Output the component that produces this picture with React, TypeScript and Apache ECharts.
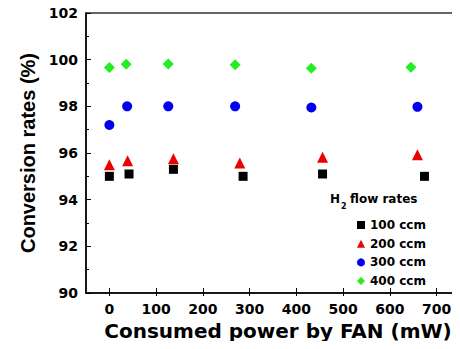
import React, { useEffect, useRef } from "react";
import * as echarts from "echarts";

const seriesNames = ["100 ccm", "200 ccm", "300 ccm", "400 ccm"];
const symbols = ["rect", "triangle", "circle", "diamond"];
const colors = ["#000000", "#ee0000", "#0000ee", "#22ee22"];
const symbolSizes = [9, 11, 10, 11];

const power100 = [0, 42, 137, 286, 456, 674];
const conv100 = [95.0, 95.1, 95.3, 95.0, 95.1, 95.0];
const power200 = [0, 39, 137, 279, 456, 659];
const conv200 = [95.5, 95.67, 95.75, 95.57, 95.82, 95.92];
const power300 = [0, 38, 126, 269, 432, 659];
const conv300 = [97.2, 98.0, 98.0, 98.0, 97.95, 97.98];
const power400 = [0, 36, 126, 269, 432, 645];
const conv400 = [99.66, 99.8, 99.81, 99.78, 99.63, 99.67];

const xMajorTicks = [0, 100, 200, 300, 400, 500, 600, 700];

const wide = "DejaVu Sans, sans-serif";
const narrow = "Liberation Sans, Arial, sans-serif";

export default function App() {
  const ref = useRef<HTMLDivElement>(null);
  useEffect(() => {
    if (!ref.current) return;
    const chart = echarts.init(ref.current, undefined, { renderer: "svg" });
    const xs = [power100, power200, power300, power400];
    const ys = [conv100, conv200, conv300, conv400];
    const series = seriesNames.map((name, i) => ({
      name,
      type: "scatter",
      symbol: symbols[i],
      symbolSize: symbolSizes[i],
      itemStyle: { color: colors[i], opacity: 1 },
      data: xs[i].map((x, j) => [x, ys[i][j]]),
      z: 5,
    }));
    chart.setOption({
      animation: false,
      grid: {
        left: 86,
        top: 13,
        width: 381,
        height: 280,
        show: true,
        borderColor: "#333",
        borderWidth: 1.5,
        backgroundColor: "transparent",
      },
      xAxis: [
        {
          type: "value",
          min: -50,
          max: 750,
          interval: 50,
          name: "Consumed power by FAN (mW)",
          nameLocation: "middle",
          nameGap: 26,
          nameTextStyle: {
            fontFamily: wide,
            fontWeight: "bold",
            fontSize: 20,
            color: "#000",
            padding: [0, 0, 0, 10],
          },
          axisLine: { show: true, onZero: false, lineStyle: { color: "#000", width: 1.5 } },
          axisTick: {
            show: true,
            inside: true,
            length: 5,
            customValues: xMajorTicks,
            lineStyle: { color: "#000", width: 1 },
          },
          axisLabel: {
            customValues: xMajorTicks,
            margin: 9,
            fontFamily: wide,
            fontWeight: "bold",
            fontSize: 14,
            color: "#000",
          },
          splitLine: { show: false },
        },
        {
          type: "value",
          min: -50,
          max: 750,
          interval: 100,
          position: "bottom",
          axisLine: { show: false, onZero: false },
          axisTick: { show: false },
          axisLabel: { show: false },
          minorTick: { show: true, splitNumber: 2, length: 3, lineStyle: { color: "#000", width: 1 } },
          splitLine: { show: false },
        },
      ],
      yAxis: {
        type: "value",
        min: 90,
        max: 102,
        interval: 2,
        name: "Conversion rates (%)",
        nameLocation: "middle",
        nameGap: 44,
        nameTextStyle: { fontFamily: narrow, fontWeight: "bold", fontSize: 20, color: "#000" },
        axisLine: { show: true, onZero: false, lineStyle: { color: "#000", width: 1.5 } },
        axisTick: { show: true, inside: true, length: 5, lineStyle: { color: "#000", width: 1 } },
        minorTick: { show: true, splitNumber: 2, length: 3, lineStyle: { color: "#000", width: 1 } },
        axisLabel: { margin: 8, fontFamily: wide, fontWeight: "bold", fontSize: 14, color: "#000" },
        splitLine: { show: false },
      },
      legend: {
        data: seriesNames.map((n, i) => ({ name: n, icon: symbols[i] })),
        orient: "vertical",
        left: 352,
        top: 214,
        itemWidth: 8,
        itemHeight: 8,
        itemGap: 6.7,
        textStyle: {
          fontFamily: wide,
          fontWeight: "bold",
          fontSize: 12,
          color: "#000",
        },
      },
      graphic: [
        {
          type: "text",
          left: 330,
          top: 193,
          style: { text: "H", font: `bold 12px ${wide}`, fill: "#000" },
        },
        {
          type: "text",
          left: 341,
          top: 202,
          style: { text: "2", font: `bold 8px ${wide}`, fill: "#000" },
        },
        {
          type: "text",
          left: 350,
          top: 193,
          style: { text: "flow rates", font: `bold 12px ${wide}`, fill: "#000" },
        },
      ],
      series,
    });
    return () => chart.dispose();
  }, []);
  return <div ref={ref} style={{ width: 460, height: 349, margin: -8 }} />;
}
